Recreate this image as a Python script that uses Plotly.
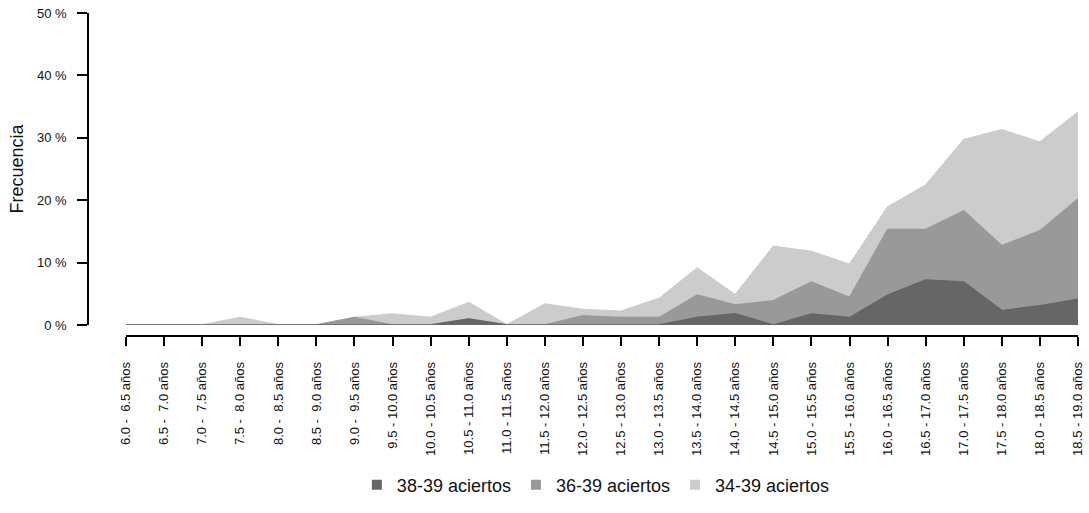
import plotly.graph_objects as go

NB = "\u00a0"
categories = [
    "6.0 -" + NB + " 6.5 años", "6.5 -" + NB + " 7.0 años", "7.0 -" + NB + " 7.5 años",
    "7.5 -" + NB + " 8.0 años", "8.0 -" + NB + " 8.5 años", "8.5 -" + NB + " 9.0 años",
    "9.0 -" + NB + " 9.5 años", "9.5 - 10.0 años",
    "10.0 - 10.5 años", "10.5 - 11.0 años", "11.0 - 11.5 años", "11.5 - 12.0 años",
    "12.0 - 12.5 años", "12.5 - 13.0 años", "13.0 - 13.5 años", "13.5 - 14.0 años",
    "14.0 - 14.5 años", "14.5 - 15.0 años", "15.0 - 15.5 años", "15.5 - 16.0 años",
    "16.0 - 16.5 años", "16.5 - 17.0 años", "17.0 - 17.5 años", "17.5 - 18.0 años",
    "18.0 - 18.5 años", "18.5 - 19.0 años",
]

aciertos_38_39 = [0, 0, 0, 0, 0, 0, 0, 0, 0, 0.95, 0, 0, 0, 0, 0, 1.2,
                  1.8, 0, 1.75, 1.2, 4.8, 7.2, 6.9, 2.3, 3.1, 4.15]
aciertos_36_39 = [0, 0, 0, 0, 0, 0, 1.2, 0, 0, 0.95, 0, 0, 1.5, 1.2, 1.2, 4.8,
                  3.2, 3.9, 6.9, 4.4, 15.3, 15.3, 18.3, 12.7, 15.1, 20.2]
aciertos_34_39 = [0, 0, 0, 1.2, 0, 0, 1.2, 1.75, 1.2, 3.6, 0, 3.35, 2.5, 2.2, 4.25, 9.1,
                  4.85, 12.6, 11.8, 9.7, 18.9, 22.4, 29.7, 31.3, 29.3, 34.1]

series_names = ["38-39 aciertos", "36-39 aciertos", "34-39 aciertos"]
series_values = [aciertos_38_39, aciertos_36_39, aciertos_34_39]
series_colors = ["#666666", "#999999", "#cccccc"]

y_ticks = [0, 10, 20, 30, 40, 50]
y_ticktext = ["0 %", "10 %", "20 %", "30 %", "40 %", "50 %"]

FONT = "Liberation Sans, Arial, Helvetica, sans-serif"

fig = go.Figure()

# draw widest band first so narrower ones sit on top
for name, vals, col in reversed(list(zip(series_names, series_values, series_colors))):
    fig.add_trace(go.Scatter(
        x=categories, y=vals, mode="lines", fill="tozeroy",
        line=dict(color=col, width=1.5), fillcolor=col,
        showlegend=False, hoverinfo="skip",
    ))

# legend entries with square markers
for name, col in zip(series_names, series_colors):
    fig.add_trace(go.Scatter(
        x=[None], y=[None], mode="markers", name=name,
        marker=dict(symbol="square", size=10, color=col),
    ))

fig.update_layout(
    width=1089, height=513,
    margin=dict(l=88, r=11, t=13, b=176),
    paper_bgcolor="white", plot_bgcolor="white",
    font=dict(family=FONT, color="#000000"),
    showlegend=True,
    legend=dict(
        orientation="h", x=0.513, xanchor="center", y=-0.457, yanchor="middle",
        font=dict(size=18, family=FONT, color="#111111"),
        itemwidth=30,
    ),
    xaxis=dict(
        type="category", categoryorder="array", categoryarray=categories,
        range=[0, 25], domain=[0.0384, 1], anchor="free", position=0,
        showline=True, linecolor="#000000", linewidth=1.5,
        ticks="outside", ticklen=9, tickwidth=1.5, tickcolor="#000000",
        tickangle=-90, tickfont=dict(size=13, family=FONT, color="#111111"),
        ticklabelstandoff=11,
        showgrid=False, zeroline=False, fixedrange=True, automargin=False,
    ),
    yaxis=dict(
        range=[0, 50], domain=[0.034, 1], anchor="free", position=0,
        tickvals=y_ticks, ticktext=y_ticktext,
        showline=True, linecolor="#000000", linewidth=1.5,
        ticks="outside", ticklen=10, tickwidth=1.5, tickcolor="#000000",
        tickfont=dict(size=13, family=FONT, color="#111111"),
        ticklabelstandoff=8,
        title=dict(text="Frecuencia", font=dict(size=18, family=FONT, color="#111111"), standoff=8),
        showgrid=False, zeroline=False, fixedrange=True, automargin=False,
    ),
)

fig.write_html(
    "out.html",
    config={"displayModeBar": False},
    post_script="document.body.style.margin='0';document.body.style.overflow='hidden';",
)
